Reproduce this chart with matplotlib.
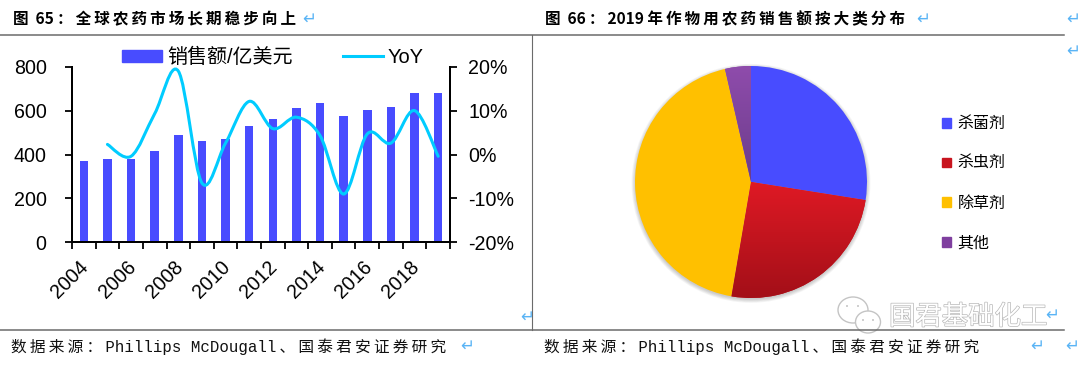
import numpy as np
import matplotlib
matplotlib.use("Agg")
import matplotlib.pyplot as plt
from matplotlib.path import Path
from matplotlib.patches import PathPatch, Circle, Ellipse, Patch
from matplotlib.lines import Line2D
from matplotlib.colors import LinearSegmentedColormap
from matplotlib.transforms import ScaledTranslation
import matplotlib.patheffects as pe

years = list(range(2004, 2020))
sales = [369, 378, 378, 414, 489, 460, 472, 530, 560, 610, 635, 575, 601, 618, 680, 680]
yoy_years = years[1:]
yoy = [2.3, -0.4, 9.3, 19.0, -6.5, 2.6, 12.1, 5.9, 8.5, 4.3, -9.0, 4.7, 2.6, 10.0, -0.4]
pie_labels = ["杀菌剂", "杀虫剂", "除草剂", "其他"]
pie_values = [27.5, 25.2, 43.7, 3.6]
title_left = "图  65\uff1a全球农药市场长期稳步向上"
title_right = "图  66\uff1a2019 年作物用农药销售额按大类分布"
source = "数据来源\uff1aPhillips McDougall、国泰君安证券研究"
watermark = "国君基础化工"

BLUE, CYAN, RED, YEL, PUR = "#484CFF", "#00CCFF", "#C8141E", "#FFC000", "#7F3F9F"
W, H = 1080, 365
CJK = ["Noto Sans CJK SC", "DejaVu Sans"]
LAT = ["Liberation Sans", "Noto Sans CJK SC", "DejaVu Sans"]
MONO = ["Liberation Mono", "Noto Sans CJK SC", "DejaVu Sans"]


def is_wide(c):
    return ord(c) > 0x2E7F


def spaced(s):
    out = ""
    for i, c in enumerate(s):
        out += c
        if i + 1 < len(s) and (is_wide(c) or is_wide(s[i + 1])) and s[i + 1] != " " and c != " ":
            out += "\u2009"
    return out


plt.rcParams["font.family"] = LAT
fig = plt.figure(figsize=(W / 100, H / 100), dpi=100, facecolor="white")


def rect(x0, y0, x1, y1):
    return [x0 / W, 1 - y1 / H, (x1 - x0) / W, (y1 - y0) / H]


# bar + smooth line chart
ax = fig.add_axes(rect(72, 66.7, 450, 242.3))
x = np.arange(len(years))
ax.bar(x, sales, width=0.36, color=BLUE, zorder=2)
ax.set_xlim(-0.5, len(years) - 0.5)
ax.set_ylim(0, 800)
ax.set_yticks([0, 200, 400, 600, 800])
ax.set_xticks(np.arange(len(years) + 1) - 0.5)
ax.set_xticklabels([])
ax.set_xticks(x[::2], [str(y) for y in years[::2]], minor=True)
ax.tick_params(axis="x", which="minor", length=0, pad=11)
ax.tick_params(axis="x", which="major", length=5, width=1.3, direction="out")
ax.tick_params(axis="y", length=4.7, width=1.3, pad=13.5, labelsize=14.1)
shift = ScaledTranslation(-5 / 100, 0, fig.dpi_scale_trans)
for lab in ax.get_xticklabels(minor=True):
    lab.set(rotation=45, ha="right", rotation_mode="anchor", fontsize=14.1)
    lab.set_transform(lab.get_transform() + shift)
ax.spines["top"].set_visible(False)
for s in ["left", "right", "bottom"]:
    ax.spines[s].set_linewidth(1.4)

ax2 = ax.twinx()
ax2.set_ylim(-20, 20)
ax2.set_yticks([-20, -10, 0, 10, 20], [f"{v}%" for v in [-20, -10, 0, 10, 20]])
ax2.tick_params(axis="y", length=4.7, width=1.3, pad=8.5, labelsize=14.1)
ax2.spines["top"].set_visible(False)
for s in ["left", "right", "bottom"]:
    ax2.spines[s].set_linewidth(1.4)

px = np.array([years.index(y) for y in yoy_years], float)
py = np.array(yoy, float)
verts = [(px[0], py[0])]
codes = [Path.MOVETO]
n = len(px)
for i in range(n - 1):
    a = max(i - 1, 0)
    b = min(i + 2, n - 1)
    verts += [
        (px[i] + (px[i + 1] - px[a]) / 6, py[i] + (py[i + 1] - py[a]) / 6),
        (px[i + 1] - (px[b] - px[i]) / 6, py[i + 1] - (py[b] - py[i]) / 6),
        (px[i + 1], py[i + 1]),
    ]
    codes += [Path.CURVE4] * 3
ax2.add_patch(PathPatch(Path(verts, codes), fill=False, edgecolor=CYAN, lw=2.2, capstyle="round", zorder=5))

fig.legend(
    handles=[Patch(color=BLUE, label="销售额/亿美元"), Line2D([], [], color=CYAN, lw=2.2, label="YoY")],
    loc="center", bbox_to_anchor=(273 / W, 1 - 57 / H), ncol=2, frameon=False,
    prop={"family": LAT, "size": 14.4}, handlelength=2.0, handleheight=0.55,
    handletextpad=0.25, columnspacing=2.5, borderpad=0, borderaxespad=0,
)

# pie chart
ap = fig.add_axes(rect(635, 66, 867, 298))
for k in range(6):
    ap.add_patch(Circle((0, -0.012), 1 + k * 0.006, color="black", alpha=0.035, lw=0, zorder=0, clip_on=False))
wedges, _ = ap.pie(pie_values, startangle=90, counterclock=False, radius=1,
                   colors=[BLUE, RED, YEL, PUR], wedgeprops={"linewidth": 0, "zorder": 1})
grads = {1: ["#A30F18", "#E21A25"], 3: ["#6A3C8A", "#8F4CAC"]}
extents = {1: (-1, 1, -1, 0.05), 3: (-1, 1, -0.02, 1)}
for idx, cols in grads.items():
    im = ap.imshow(np.linspace(1, 0, 128).reshape(-1, 1), extent=extents[idx], aspect="auto",
                   cmap=LinearSegmentedColormap.from_list("g", cols), zorder=2, vmin=0, vmax=1)
    im.set_clip_path(wedges[idx])
ap.set_xlim(-1, 1)
ap.set_ylim(-1, 1)
ap.set_aspect("equal")

fig.legend(
    handles=[Patch(color=c, label=l) for c, l in zip([BLUE, RED, YEL, PUR], pie_labels)],
    loc="center left", bbox_to_anchor=(942 / W, 1 - 183.5 / H), frameon=False,
    prop={"family": CJK, "size": 11.5}, handlelength=0.58, handleheight=0.58,
    handletextpad=0.38, labelspacing=1.42, borderpad=0, borderaxespad=0,
)

# page furniture
ov = fig.add_axes([0, 0, 1, 1], zorder=10)
ov.set_xlim(0, W)
ov.set_ylim(H, 0)
ov.axis("off")
RULE = "#6b6b6b"
ov.plot([0, 1064], [35, 35], color=RULE, lw=1.1)
ov.plot([0, 1064], [330, 330], color=RULE, lw=1.1)
ov.plot([532, 532], [35, 330], color=RULE, lw=0.8)

ov.text(13, 19, spaced(title_left), family=CJK, weight="bold", fontsize=11.2, va="center", color="black")
ov.text(545, 19, spaced(title_right), family=CJK, weight="bold", fontsize=11.2, va="center", color="black")
ov.text(11, 347, spaced(source), family=MONO, fontsize=11.3, va="center", color="#111111")
ov.text(544, 347, spaced(source), family=MONO, fontsize=11.3, va="center", color="#111111")

for ax_, ay_ in [(309, 19), (923, 19), (1073, 19), (1073, 51), (527, 317), (467, 346),
                 (1052, 315), (1037, 346), (1072, 346)]:
    ov.text(ax_, ay_, "\u21b5", family="DejaVu Sans", fontsize=12, color="#5AB4F5", ha="center", va="center")

# watermark
for (cx, cy, w, h) in [(853, 310, 30, 26), (868, 322, 25, 22)]:
    ov.add_patch(Ellipse((cx, cy), w, h, facecolor="white", edgecolor="#c4c4c4", lw=1))
for (dx, dy) in [(847, 306), (858, 306), (863, 320), (873, 320)]:
    ov.add_patch(Circle((dx, dy), 1, color="#c4c4c4", lw=0))
ov.text(889, 317, watermark, family=CJK, fontsize=19, va="center", color="white",
        path_effects=[pe.withStroke(linewidth=1.0, foreground="#b8b8b8")])

fig.savefig("out.png", dpi=100, facecolor="white")
